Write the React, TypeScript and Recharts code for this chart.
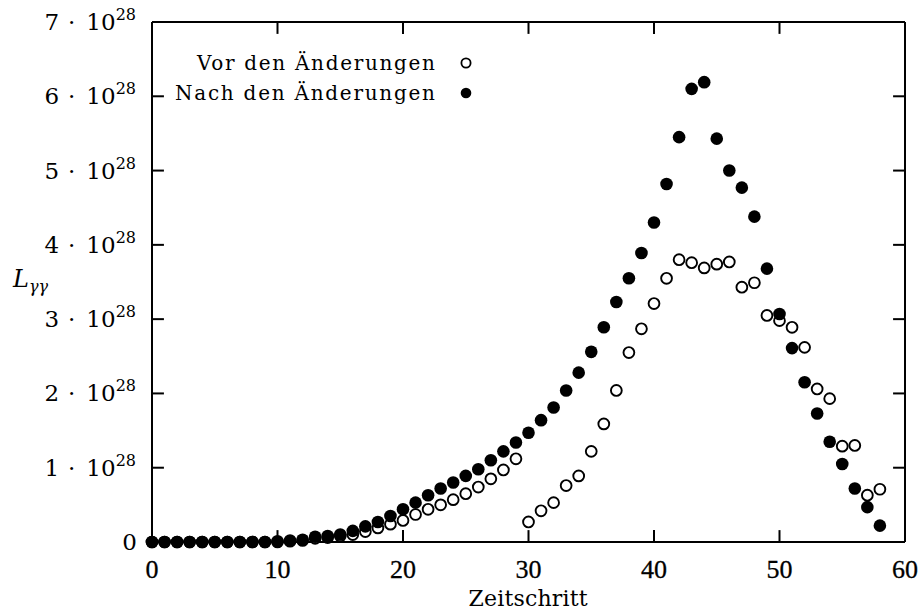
import { ScatterChart, Scatter, XAxis, YAxis, ReferenceLine } from 'recharts';

// Zeitschritt 0..58
const steps = [
  0, 1, 2, 3, 4, 5, 6, 7, 8, 9, 10, 11, 12, 13, 14, 15, 16, 17, 18, 19,
  20, 21, 22, 23, 24, 25, 26, 27, 28, 29, 30, 31, 32, 33, 34, 35, 36, 37, 38, 39,
  40, 41, 42, 43, 44, 45, 46, 47, 48, 49, 50, 51, 52, 53, 54, 55, 56, 57, 58,
];

// L_gamma-gamma in units of 1e28
const vorValues = [
  0, 0, 0, 0, 0, 0, 0, 0, 0, 0, 0, 0.01, 0.02, 0.05, 0.06, 0.08, 0.1, 0.14, 0.19, 0.24,
  0.29, 0.37, 0.44, 0.5, 0.57, 0.65, 0.74, 0.85, 0.97, 1.12, 0.27, 0.42, 0.53, 0.76, 0.89, 1.22, 1.59, 2.04, 2.55, 2.87,
  3.21, 3.55, 3.8, 3.76, 3.69, 3.74, 3.77, 3.43, 3.49, 3.05, 2.98, 2.89, 2.62, 2.06, 1.93, 1.29, 1.3, 0.63, 0.71,
];

const nachValues = [
  0, 0, 0, 0, 0, 0, 0, 0, 0, 0, 0.01, 0.02, 0.03, 0.07, 0.08, 0.1, 0.15, 0.21, 0.27, 0.35,
  0.44, 0.53, 0.63, 0.72, 0.8, 0.89, 0.98, 1.1, 1.22, 1.34, 1.47, 1.64, 1.81, 2.04, 2.28, 2.56, 2.89, 3.23, 3.55, 3.89,
  4.3, 4.82, 5.45, 6.1, 6.19, 5.43, 5.0, 4.77, 4.38, 3.68, 3.07, 2.61, 2.15, 1.73, 1.35, 1.05, 0.72, 0.47, 0.22,
];

const xTicks = [0, 10, 20, 30, 40, 50, 60];
const yTicks = [0, 1, 2, 3, 4, 5, 6, 7];
const seriesNames = ['Vor den Änderungen', 'Nach den Änderungen'];

const vorData = steps.map((s, i) => ({ step: s, value: vorValues[i] }));
const nachData = steps.map((s, i) => ({ step: s, value: nachValues[i] }));

const X_MIN = 0;
const X_MAX = 60;
const Y_MIN = 0;
const Y_MAX = 7;
// inward tick length (~12px) in data units
const X_TICK_LEN = 0.16; // vertical ticks, y units
const Y_TICK_LEN = 0.95; // horizontal ticks, x units

const SERIF = '"Liberation Serif", "DejaVu Serif", serif';
const WIDE = '"DejaVu Serif", serif';

const BottomTick = ({ x, y, payload }: any) => (
  <text x={x} y={y + 36} textAnchor="middle" fontFamily={SERIF} fontSize={26} fill="#000" stroke="#000" strokeWidth={0.3}>
    {payload.value}
  </text>
);

const LeftTick = ({ x, y, payload }: any) => {
  const right = x - 16;
  if (payload.value === 0) {
    return (
      <text x={right + 1} y={y + 8} textAnchor="end" fontFamily={WIDE} fontSize={23} fill="#000">
        0
      </text>
    );
  }
  return (
    <text x={right} y={y + 8} textAnchor="end" fontFamily={WIDE} fontSize={23} fill="#000">
      <tspan>{payload.value}</tspan>
      <tspan dx={9}>·</tspan>
      <tspan dx={11}>10</tspan>
      <tspan dy={-10} fontSize={16}>28</tspan>
    </text>
  );
};

const OpenDot = ({ cx, cy }: any) => (
  <circle cx={cx} cy={cy} r={5.4} fill="#fff" stroke="#000" strokeWidth={1.9} />
);

const FilledDot = ({ cx, cy }: any) => <circle cx={cx} cy={cy} r={6.3} fill="#000" />;

const axisLine = { stroke: '#000', strokeWidth: 2 };
const tickStroke = { stroke: '#000', strokeWidth: 2, strokeOpacity: 1 };

export default function App() {
  return (
    <div style={{ position: 'absolute', left: 0, top: 0, width: 919, height: 613, background: '#fff' }}>
      <ScatterChart width={919} height={613} margin={{ top: 12, right: 4, bottom: 11, left: 12 }}>
        <XAxis
          xAxisId="bottom"
          dataKey="step"
          type="number"
          domain={[X_MIN, X_MAX]}
          ticks={xTicks}
          orientation="bottom"
          height={60}
          axisLine={axisLine}
          tickLine={false}
          tickSize={0}
          tickMargin={0}
          tick={BottomTick}
          interval={0}
        />
        <XAxis
          xAxisId="top"
          type="number"
          domain={[X_MIN, X_MAX]}
          orientation="top"
          height={10}
          axisLine={axisLine}
          tickLine={false}
          tick={false}
        />
        <YAxis
          yAxisId="left"
          dataKey="value"
          type="number"
          domain={[Y_MIN, Y_MAX]}
          ticks={yTicks}
          width={140}
          axisLine={axisLine}
          tickLine={false}
          tickSize={0}
          tickMargin={0}
          tick={LeftTick}
          interval={0}
        />
        <YAxis
          yAxisId="right"
          type="number"
          domain={[Y_MIN, Y_MAX]}
          orientation="right"
          width={10}
          axisLine={axisLine}
          tickLine={false}
          tick={false}
        />
        {xTicks.map((t) => (
          <ReferenceLine
            key={`xb${t}`}
            xAxisId="bottom"
            yAxisId="left"
            segment={[{ x: t, y: Y_MIN }, { x: t, y: Y_MIN + X_TICK_LEN }]}
            {...tickStroke}
            ifOverflow="visible"
          />
        ))}
        {xTicks.map((t) => (
          <ReferenceLine
            key={`xt${t}`}
            xAxisId="bottom"
            yAxisId="left"
            segment={[{ x: t, y: Y_MAX }, { x: t, y: Y_MAX - X_TICK_LEN }]}
            {...tickStroke}
            ifOverflow="visible"
          />
        ))}
        {yTicks.map((t) => (
          <ReferenceLine
            key={`yl${t}`}
            xAxisId="bottom"
            yAxisId="left"
            segment={[{ x: X_MIN, y: t }, { x: X_MIN + Y_TICK_LEN, y: t }]}
            {...tickStroke}
            ifOverflow="visible"
          />
        ))}
        {yTicks.map((t) => (
          <ReferenceLine
            key={`yr${t}`}
            xAxisId="bottom"
            yAxisId="left"
            segment={[{ x: X_MAX, y: t }, { x: X_MAX - Y_TICK_LEN, y: t }]}
            {...tickStroke}
            ifOverflow="visible"
          />
        ))}
        <Scatter
          name={seriesNames[0]}
          data={vorData}
          xAxisId="bottom"
          yAxisId="left"
          shape={OpenDot}
          isAnimationActive={false}
        />
        <Scatter
          name={seriesNames[1]}
          data={nachData}
          xAxisId="bottom"
          yAxisId="left"
          shape={FilledDot}
          isAnimationActive={false}
        />
      </ScatterChart>
      <svg
        width={919}
        height={613}
        style={{ position: 'absolute', left: 0, top: 0, pointerEvents: 'none' }}
      >
        <g fontFamily={WIDE} fill="#000">
          <text x={435} y={70} textAnchor="end" fontSize={20} textLength={238} lengthAdjust="spacing">
            {seriesNames[0]}
          </text>
          <circle cx={466} cy={63} r={4.6} fill="#fff" stroke="#000" strokeWidth={1.8} />
          <text x={435} y={100} textAnchor="end" fontSize={20} textLength={260} lengthAdjust="spacing">
            {seriesNames[1]}
          </text>
          <circle cx={466} cy={93} r={5.3} fill="#000" />
          <text x={528} y={606} textAnchor="middle" fontSize={22} textLength={119} lengthAdjust="spacing">
            Zeitschritt
          </text>
          <text x={13} y={287} fontSize={24} fontStyle="italic">
            L<tspan dy={5} fontSize={16}>γγ</tspan>
          </text>
        </g>
      </svg>
    </div>
  );
}
